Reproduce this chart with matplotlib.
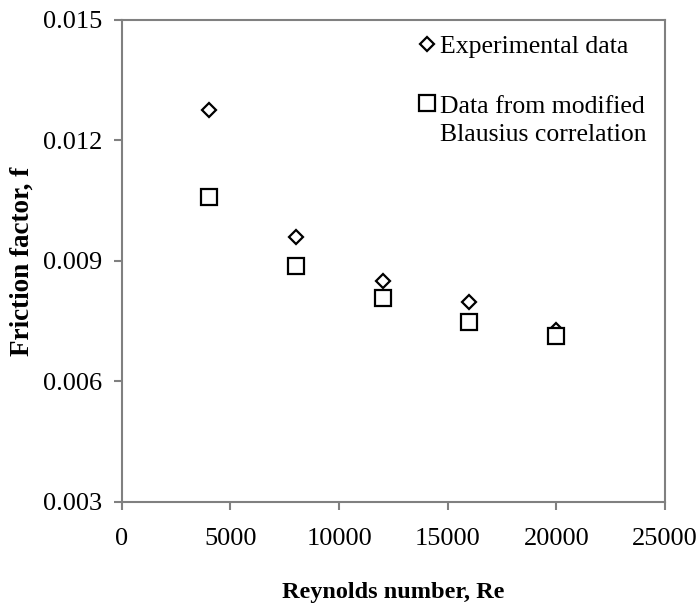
import matplotlib
matplotlib.use("Agg")
import matplotlib.pyplot as plt
import numpy as np
from matplotlib.legend_handler import HandlerLine2D

plt.rcParams['font.family'] = ['Liberation Serif', 'DejaVu Serif']

reynolds = [4000, 8000, 12000, 16000, 20000]
f_experimental = [0.01276, 0.0096, 0.0085, 0.00798, 0.00728]
f_blasius = [0.01059, 0.00887, 0.00808, 0.00748, 0.00713]

x_ticks = [0, 5000, 10000, 15000, 20000, 25000]
y_ticks = [0.003, 0.006, 0.009, 0.012, 0.015]


# marker of a two-line legend entry sits on the first line, not in the middle
class FirstLineHandler(HandlerLine2D):
    def create_artists(self, legend, orig_handle, xdescent, ydescent,
                       width, height, fontsize, trans):
        arts = super().create_artists(legend, orig_handle, xdescent, ydescent,
                                      width, height, fontsize, trans)
        for a in arts:
            a.set_ydata(np.asarray(a.get_ydata()) + 0.67 * fontsize)
        return arts


fig = plt.figure(figsize=(7, 6.06), dpi=100)
ax = fig.add_axes([0.174, 0.172, 0.776, 0.795])

exp_line, = ax.plot(reynolds, f_experimental, linestyle='none', marker='D', markersize=7,
                    markerfacecolor='white', markeredgecolor='black', markeredgewidth=1.6,
                    label='Experimental data')
bla_line, = ax.plot(reynolds, f_blasius, linestyle='none', marker='s', markersize=11,
                    markerfacecolor='white', markeredgecolor='black', markeredgewidth=1.6,
                    label='Data from modified\nBlausius correlation')

ax.set_xlim(0, 25000)
ax.set_ylim(0.003, 0.015)
ax.set_xticks(x_ticks)
ax.set_yticks(y_ticks)
ax.set_yticklabels([f"{v:.3f}" for v in y_ticks])

for s in ax.spines.values():
    s.set_color('#808080')
    s.set_linewidth(1.5)
ax.tick_params(direction='out', length=6, width=1.5, color='#808080',
               labelsize=19)
ax.tick_params(axis='x', pad=13)
ax.tick_params(axis='y', pad=8)

ax.set_xlabel('Reynolds number, Re', fontsize=17.5, fontweight='bold', labelpad=23)
ax.set_ylabel('Friction factor, f', fontsize=19.5, fontweight='bold', labelpad=6)

leg = ax.legend(loc='upper right', frameon=False, fontsize=18.5, handlelength=0.7,
                handletextpad=0.15, labelspacing=1.45, borderaxespad=0.2,
                bbox_to_anchor=(0.995, 1.0),
                handler_map={bla_line: FirstLineHandler(), exp_line: HandlerLine2D()})
for t in leg.get_texts():
    t.set_linespacing(1.4)

fig.savefig('out.png', dpi=100)
